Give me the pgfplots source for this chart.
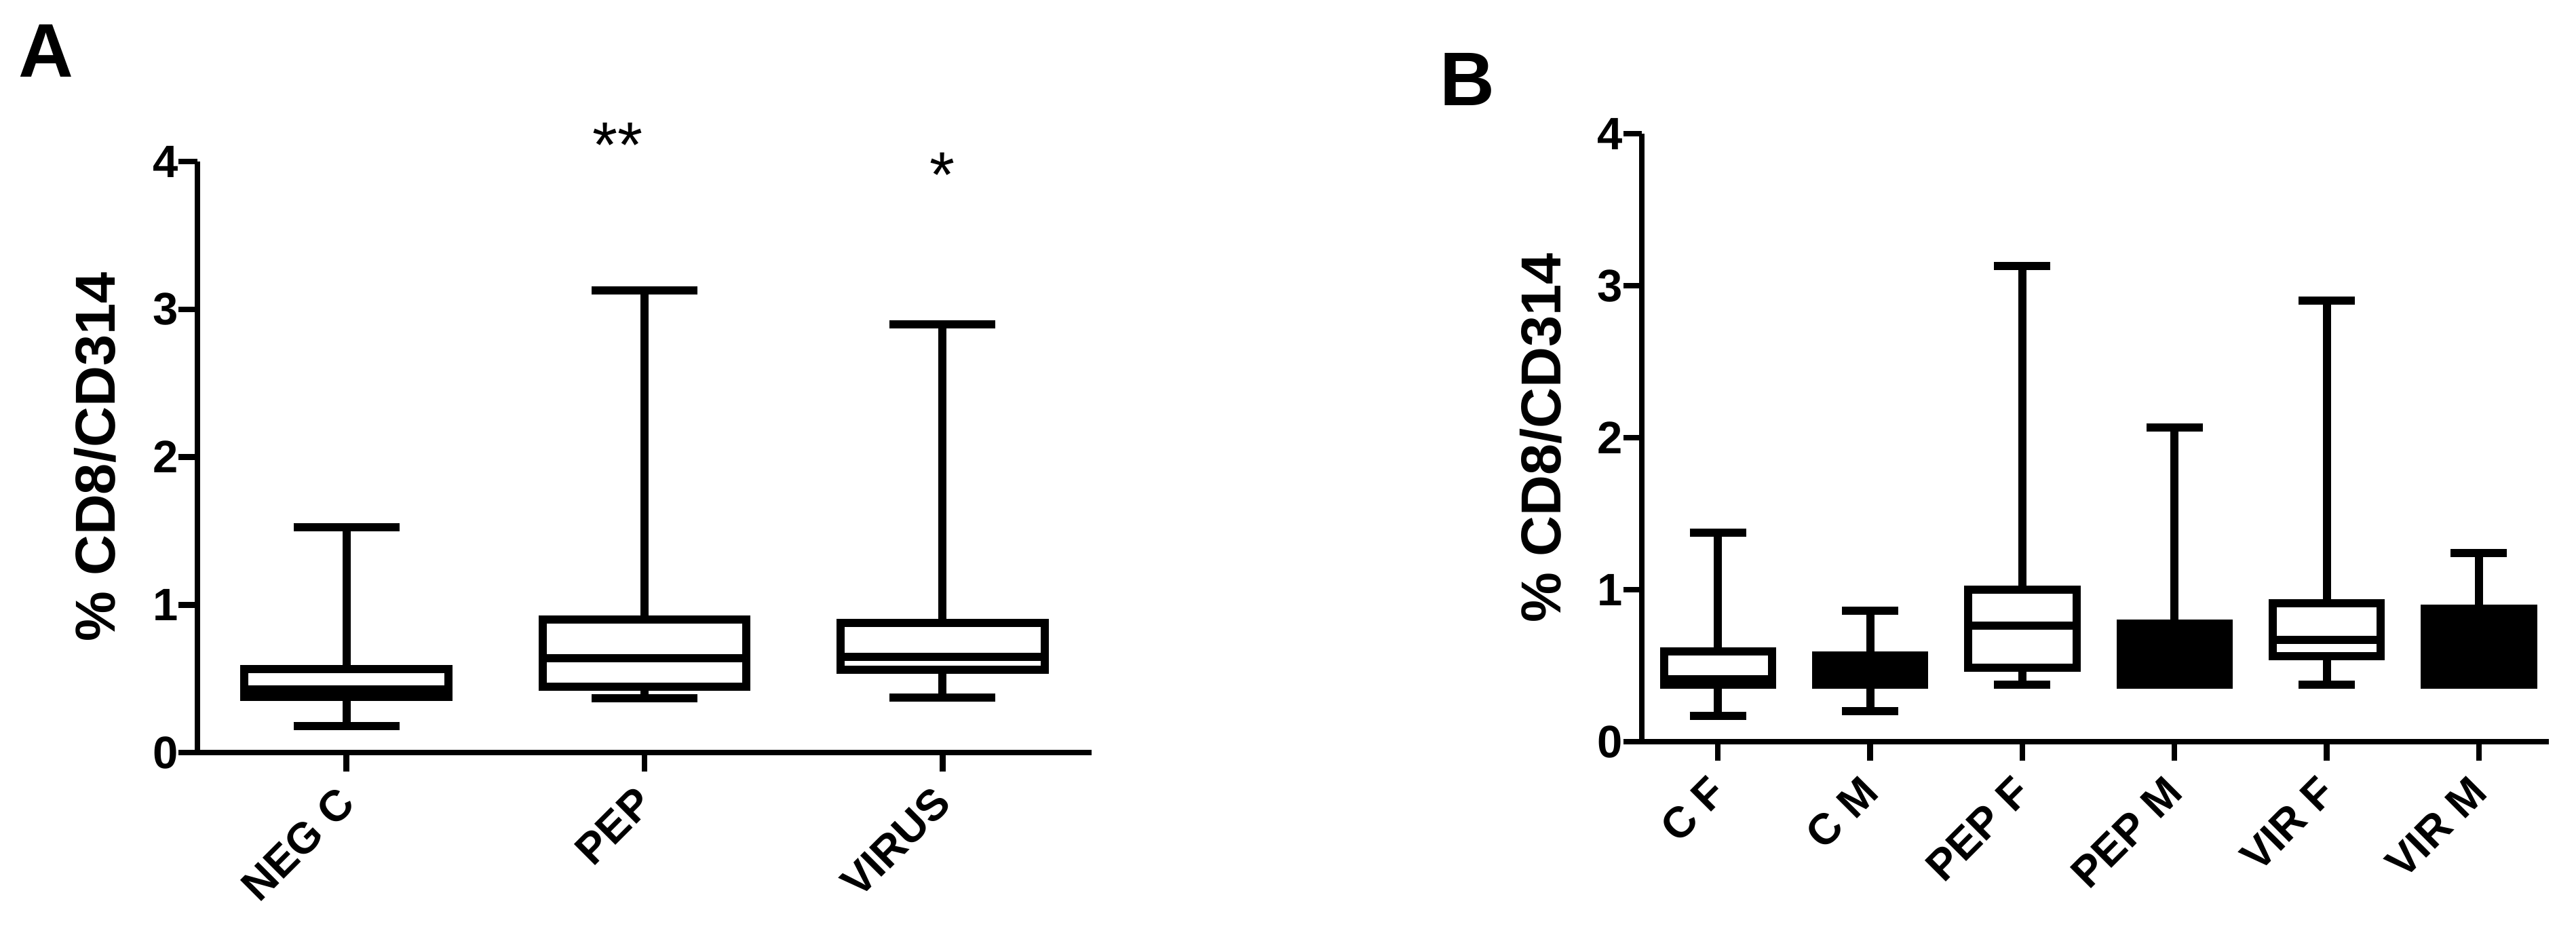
\documentclass[border=0pt]{standalone}
\usepackage{pgfplots}
\pgfplotsset{compat=1.18}
\usepgfplotslibrary{statistics}
\usepackage{fontspec}
\setmainfont{Liberation Sans}

\begin{document}
\begin{tikzpicture}
\useasboundingbox (0,0) rectangle (379.7pt,137.1pt);
\pgfplotsset{
  mystyle/.style={
    scale only axis,
    axis lines=left,
    axis line style={-, line width=0.85pt, black},
    ymin=0, ymax=4, ytick={0,1,2,3,4},
    tick align=outside,
    major tick length=2.75pt,
    tick style={line width=0.85pt, black},
    /pgf/number format/assume math mode=true,
    yticklabel style={font=\fontsize{6.7}{8}\selectfont\bfseries, xshift=3.5pt},
    xticklabel style={xshift=2.47pt, yshift=-1.06pt, rotate=45, anchor=east, font=\fontsize{6.4}{7.5}\selectfont\bfseries},
    ylabel style={font=\fontsize{8.3}{10}\selectfont\bfseries, anchor=center},
    clip=false,
    boxplot/draw direction=y,
  },
  bx/.style={black, line width=1.2pt, fill=white},
  bxf/.style={black, line width=1.2pt, fill=black},
}

\node[anchor=base west, inner sep=0pt, font=\fontsize{11.2}{13}\selectfont\bfseries] at (2.5pt,125.8pt) {A};
\node[anchor=base west, inner sep=0pt, font=\fontsize{11.2}{13}\selectfont\bfseries] at (212.0pt,121.6pt) {B};

% Panel A
\begin{axis}[mystyle, at={(29.1pt,26.2pt)}, anchor=south west,
  width=131.8pt, height=87.1pt,
  xmin=-0.5, xmax=2.5, xtick={0,1,2}, xticklabels={NEG C,PEP,VIRUS},
  ylabel={\% CD8/CD314},
  ylabel style={at={(axis description cs:-0.114,0.5)}}]
\addplot[bx, boxplot prepared={draw position=0, lower whisker=0.18, lower quartile=0.375, median=0.425, upper quartile=0.565, upper whisker=1.526, box extend=0.685, whisker extend=0.355}] coordinates {};
\addplot[bx, boxplot prepared={draw position=1, lower whisker=0.368, lower quartile=0.447, median=0.639, upper quartile=0.898, upper whisker=3.128, box extend=0.685, whisker extend=0.355}] coordinates {};
\addplot[bx, boxplot prepared={draw position=2, lower whisker=0.371, lower quartile=0.56, median=0.648, upper quartile=0.876, upper whisker=2.896, box extend=0.685, whisker extend=0.355}] coordinates {};
\node[anchor=base, inner sep=0pt, font=\fontsize{9.5}{10}\selectfont] at (axis cs:0.91,3.96) {**};
\node[anchor=base, inner sep=0pt, font=\fontsize{9.5}{10}\selectfont] at (axis cs:2,3.76) {*};
\end{axis}

% Panel B
\begin{axis}[mystyle, at={(242.0pt,27.8pt)}, anchor=south west,
  width=133.7pt, height=89.6pt,
  xmin=-0.5, xmax=5.46, xtick={0,1,2,3,4,5},
  xticklabels={C F,C M,PEP F,PEP M,VIR F,VIR M},
  ylabel={\% CD8/CD314},
  ylabel style={at={(axis description cs:-0.111,0.5)}}]
\addplot[bx, boxplot prepared={draw position=0, lower whisker=0.17, lower quartile=0.375, median=0.41, upper quartile=0.595, upper whisker=1.374, box extend=0.71, whisker extend=0.37}] coordinates {};
\addplot[bxf, boxplot prepared={draw position=1, lower whisker=0.20, lower quartile=0.373, median=0.45, upper quartile=0.567, upper whisker=0.86, box extend=0.71, whisker extend=0.37}] coordinates {};
\addplot[bx, boxplot prepared={draw position=2, lower whisker=0.373, lower quartile=0.485, median=0.764, upper quartile=1.0, upper whisker=3.13, box extend=0.71, whisker extend=0.37}] coordinates {};
\addplot[bxf, boxplot prepared={draw position=3, lower whisker=0.373, lower quartile=0.373, median=0.55, upper quartile=0.776, upper whisker=2.068, box extend=0.71, whisker extend=0.37}] coordinates {};
\addplot[bx, boxplot prepared={draw position=4, lower whisker=0.373, lower quartile=0.564, median=0.669, upper quartile=0.91, upper whisker=2.9, box extend=0.71, whisker extend=0.37}] coordinates {};
\addplot[bxf, boxplot prepared={draw position=5, lower whisker=0.373, lower quartile=0.373, median=0.6, upper quartile=0.873, upper whisker=1.241, box extend=0.71, whisker extend=0.37}] coordinates {};
\end{axis}
\end{tikzpicture}
\end{document}
